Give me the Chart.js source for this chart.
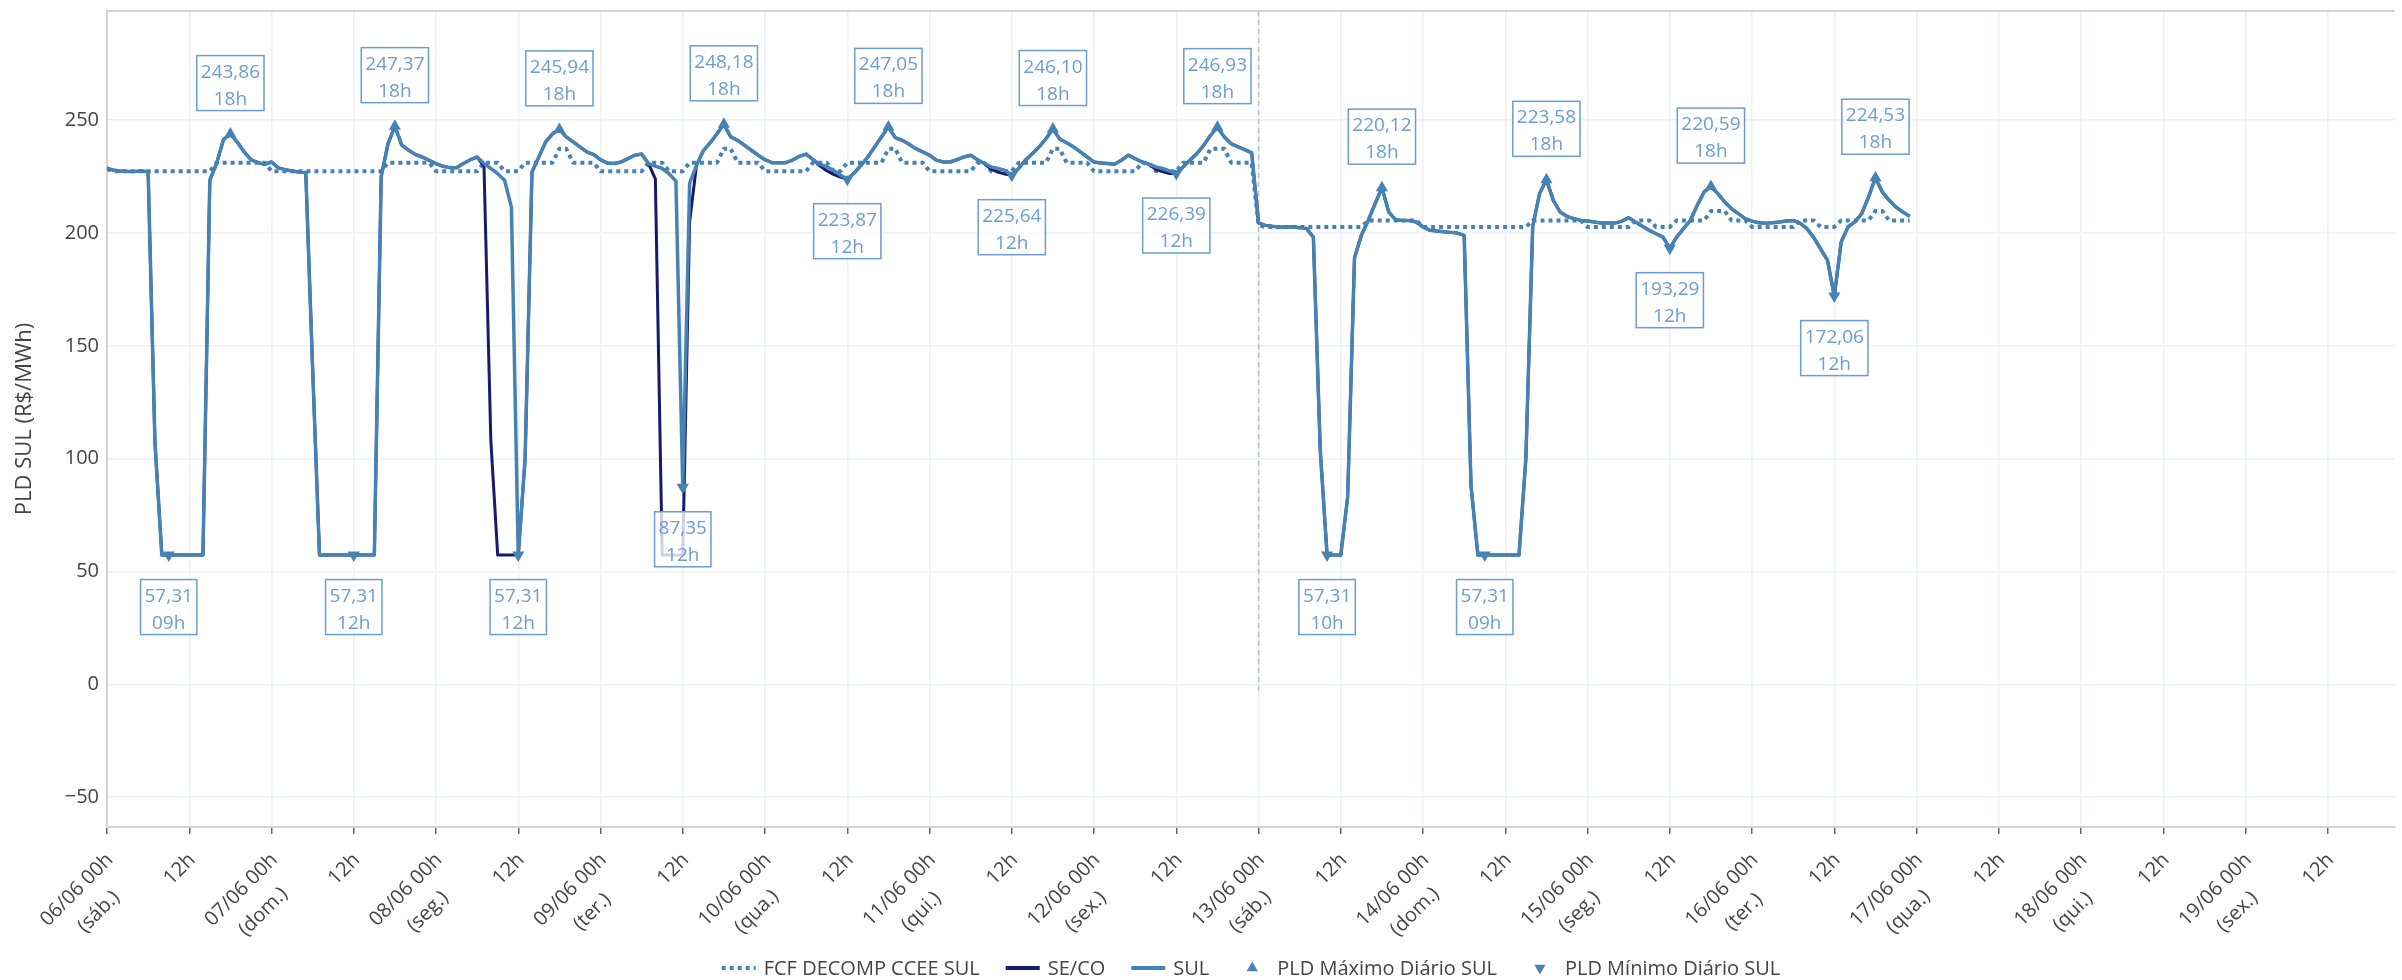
<!DOCTYPE html>
<html lang="pt-BR">
<head>
<meta charset="utf-8">
<title>PLD SUL</title>
<script src="https://cdn.jsdelivr.net/npm/chart.js@4.4.1/dist/chart.umd.min.js"></script>
<style>
  html, body { margin: 0; padding: 0; background: #fff; }
  #wrap { width: 2402px; height: 980px; }
  canvas { background: #fff; }
</style>
</head>
<body>
<div id="wrap"><canvas id="chart" width="2402" height="980"></canvas></div>
<script>
// hourly PLD, 06/06 00h .. 16/06 23h (one row per day)
const sul = [
  228.7, 227.8, 227.5, 227.3, 227.3, 227.5, 227.2, 107, 57.31, 57.31, 57.31, 57.31, 57.31, 57.31, 57.31, 223.4, 231, 241.5, 243.86, 240.4, 236, 232.5, 231.2, 230.5,
  231.5, 228.9, 228.1, 227.5, 227, 226.8, 140, 57.31, 57.31, 57.31, 57.31, 57.31, 57.31, 57.31, 57.31, 57.31, 225, 239.6, 247.37, 239, 236.7, 234.8, 233.7, 232.2,
  230.8, 229.6, 229, 228.9, 230.8, 232.5, 233.7, 230.8, 228.6, 226.3, 223.4, 211.5, 57.31, 100, 227, 233.7, 240.4, 244, 245.94, 242.6, 240.4, 238.2, 236, 234.8,
  232.5, 231, 230.8, 231.5, 233, 234.5, 235, 230.8, 229.7, 228.6, 226.3, 223, 87.35, 222, 230, 236.5, 240, 244, 248.18, 242.6, 241.1, 238.9, 236.7, 234.5,
  232.5, 231.2, 231.2, 231.2, 232.3, 234, 235, 232.5, 230.5, 229.3, 227.8, 225.6, 223.87, 226.6, 230, 233.7, 238.2, 242.6, 247.05, 242.3, 241.1, 239.4, 237.4, 236,
  234.5, 232.3, 231.5, 231.5, 232.5, 233.7, 234.5, 232.5, 230.8, 229.3, 228.6, 227.8, 225.64, 228.6, 232.3, 235.2, 238.2, 241.9, 246.1, 241.6, 240, 238.2, 236, 233.7,
  231.5, 231, 230.8, 230.5, 232.3, 234.5, 233, 231.5, 230.5, 229.3, 228.6, 227.5, 226.39, 229.3, 232.3, 235.2, 238.9, 243.3, 246.93, 242.6, 239.6, 238.2, 237, 235.5,
  204.5, 203.4, 203, 202.7, 202.7, 202.7, 202.4, 202, 198.2, 104, 57.31, 57.31, 57.31, 83, 189, 199, 205.6, 213, 220.12, 209.3, 205.9, 205.6, 205.6, 204.9,
  202.7, 201.2, 200.9, 200.6, 200.3, 200, 199, 88, 57.31, 57.31, 57.31, 57.31, 57.31, 57.31, 57.31, 100, 203, 217.5, 223.58, 214.5, 209.3, 207.4, 206.4, 205.6,
  205.3, 204.9, 204.4, 204.4, 204.4, 205.3, 206.8, 204.9, 203, 201.2, 199.7, 198.2, 193.29, 198.2, 202, 205.6, 212.3, 218.2, 220.59, 217.5, 213.8, 210.8, 208.6, 206.4,
  205.3, 204.6, 204.4, 204.6, 204.9, 205.3, 205.6, 204.4, 202, 198, 193, 188, 172.06, 196, 202.7, 205, 208.6, 216, 224.53, 218.2, 214.5, 211.5, 209.3, 207.4
];

const seco = [
  228.7, 227.8, 227.5, 227.3, 227.3, 227.5, 227.2, 107, 57.31, 57.31, 57.31, 57.31, 57.31, 57.31, 57.31, 223.4, 231, 241.5, 243.86, 240.4, 236, 232.5, 231.2, 230.5,
  231.5, 228.9, 228.1, 227.5, 227, 226.8, 140, 57.31, 57.31, 57.31, 57.31, 57.31, 57.31, 57.31, 57.31, 57.31, 225, 239.6, 247.37, 239, 236.7, 234.8, 233.7, 232.2,
  230.8, 229.6, 229, 228.9, 230.8, 232.5, 233.7, 229.5, 108, 57.31, 57.31, 57.31, 57.31, 100, 227, 233.7, 240.4, 244, 245.94, 242.6, 240.4, 238.2, 236, 234.8,
  232.5, 231, 230.8, 231.5, 233, 234.5, 235, 230.8, 224, 57.31, 57.31, 57.31, 57.31, 205, 230, 236.5, 240, 244, 248.18, 242.6, 241.1, 238.9, 236.7, 234.5,
  232.5, 231.2, 231.2, 231.2, 232.3, 234, 235, 232.5, 229.8, 227.6, 226, 224.8, 223.87, 226.6, 230, 233.7, 238.2, 242.6, 247.05, 242.3, 241.1, 239.4, 237.4, 236,
  234.5, 232.3, 231.5, 231.5, 232.5, 233.7, 234.5, 232.5, 230.8, 228.2, 227, 226.2, 225.64, 228.6, 232.3, 235.2, 238.2, 241.9, 246.1, 241.6, 240, 238.2, 236, 233.7,
  231.5, 231, 230.8, 230.5, 232.3, 234.5, 233, 231.5, 230.5, 228.2, 227.2, 226.4, 226.39, 229.3, 232.3, 235.2, 238.9, 243.3, 246.93, 242.6, 239.6, 238.2, 237, 235.5,
  204.5, 203.4, 203, 202.7, 202.7, 202.7, 202.4, 202, 198.2, 104, 57.31, 57.31, 57.31, 83, 189, 199, 205.6, 213, 220.12, 209.3, 205.9, 205.6, 205.6, 204.9,
  202.7, 201.2, 200.9, 200.6, 200.3, 200, 199, 88, 57.31, 57.31, 57.31, 57.31, 57.31, 57.31, 57.31, 100, 203, 217.5, 223.58, 214.5, 209.3, 207.4, 206.4, 205.6,
  205.3, 204.9, 204.4, 204.4, 204.4, 205.3, 206.8, 204.9, 203, 201.2, 199.7, 198.2, 193.29, 198.2, 202, 205.6, 212.3, 218.2, 220.59, 217.5, 213.8, 210.8, 208.6, 206.4,
  205.3, 204.6, 204.4, 204.6, 204.9, 205.3, 205.6, 204.4, 202, 198, 193, 188, 172.06, 196, 202.7, 205, 208.6, 216, 224.53, 218.2, 214.5, 211.5, 209.3, 207.4
];

const fcf = [
  228.3, 227.4, 227.4, 227.4, 227.4, 227.4, 227.4, 227.4, 227.4, 227.4, 227.4, 227.4, 227.4, 227.4, 227.4, 227.4, 231.2, 231.2, 231.2, 231.2, 231.2, 231.2, 231.2, 231.2,
  227.4, 227.4, 227.4, 227.4, 227.4, 227.4, 227.4, 227.4, 227.4, 227.4, 227.4, 227.4, 227.4, 227.4, 227.4, 227.4, 227.4, 231.2, 231.2, 231.2, 231.2, 231.2, 231.2, 231.2,
  227.4, 227.4, 227.4, 227.4, 227.4, 227.4, 227.4, 231.2, 231.2, 231.2, 227.4, 227.4, 227.4, 231.2, 231.2, 231.2, 231.2, 231.2, 237.4, 237.4, 231.2, 231.2, 231.2, 231.2,
  227.4, 227.4, 227.4, 227.4, 227.4, 227.4, 227.4, 231.2, 231.2, 231.2, 227.4, 227.4, 227.4, 231.2, 231.2, 231.2, 231.2, 231.2, 237.4, 237.4, 231.2, 231.2, 231.2, 231.2,
  227.4, 227.4, 227.4, 227.4, 227.4, 227.4, 227.4, 231.2, 231.2, 231.2, 227.4, 227.4, 231.2, 231.2, 231.2, 231.2, 231.2, 231.2, 237.4, 237.4, 231.2, 231.2, 231.2, 231.2,
  227.4, 227.4, 227.4, 227.4, 227.4, 227.4, 227.4, 231.2, 231.2, 227.4, 227.4, 227.4, 227.4, 231.2, 231.2, 231.2, 231.2, 231.2, 237.4, 237.4, 231.2, 231.2, 231.2, 231.2,
  227.4, 227.4, 227.4, 227.4, 227.4, 227.4, 227.4, 231.2, 231.2, 227.4, 227.4, 227.4, 227.4, 231.2, 231.2, 231.2, 231.2, 237.4, 237.4, 237.4, 231.2, 231.2, 231.2, 231.2,
  203.5, 202.7, 202.7, 202.7, 202.7, 202.7, 202.7, 202.7, 202.7, 202.7, 202.7, 202.7, 202.7, 202.7, 202.7, 202.7, 205.6, 205.6, 205.6, 205.6, 205.6, 205.6, 205.6, 205.6,
  202.7, 202.7, 202.7, 202.7, 202.7, 202.7, 202.7, 202.7, 202.7, 202.7, 202.7, 202.7, 202.7, 202.7, 202.7, 202.7, 205.6, 205.6, 205.6, 205.6, 205.6, 205.6, 205.6, 205.6,
  202.7, 202.7, 202.7, 202.7, 202.7, 202.7, 202.7, 205.6, 205.6, 205.6, 202.7, 202.7, 202.7, 205.6, 205.6, 205.6, 205.6, 205.6, 209.8, 209.8, 209.8, 205.6, 205.6, 205.6,
  202.7, 202.7, 202.7, 202.7, 202.7, 202.7, 202.7, 205.6, 205.6, 205.6, 202.7, 202.7, 202.7, 205.6, 205.6, 205.6, 205.6, 205.6, 209.8, 209.8, 205.6, 205.6, 205.6, 205.6
];

// daily max / min of SUL (hour counted from 06/06 00h)
const maxHours = [18, 42, 66, 90, 114, 138, 162, 186, 210, 234, 258];
const maxValues = [243.86, 247.37, 245.94, 248.18, 247.05, 246.10, 246.93, 220.12, 223.58, 220.59, 224.53];
const minHours = [9, 36, 60, 84, 108, 132, 156, 178, 201, 228, 252];
const minValues = [57.31, 57.31, 57.31, 87.35, 223.87, 225.64, 226.39, 57.31, 57.31, 193.29, 172.06];

const dayLabels = ["06/06 00h", "07/06 00h", "08/06 00h", "09/06 00h", "10/06 00h", "11/06 00h", "12/06 00h",
  "13/06 00h", "14/06 00h", "15/06 00h", "16/06 00h", "17/06 00h", "18/06 00h", "19/06 00h"];
const weekdayLabels = ["(sáb.)", "(dom.)", "(seg.)", "(ter.)", "(qua.)", "(qui.)", "(sex.)",
  "(sáb.)", "(dom.)", "(seg.)", "(ter.)", "(qua.)", "(qui.)", "(sex.)"];
const yTicks = [-50, 0, 50, 100, 150, 200, 250];
const newWeekHour = 168;

const hours = sul.map((_, i) => i);

const FAMILY = '"Open Sans", sans-serif';
const TEXT = "#444";
const BLUE = "#4682b4";
const NAVY = "#191970";
const NOTE = "#6b9dd2";
const GRID = "#edf0f7";
const AXIS = "#d4d4d4";

Chart.defaults.font.family = FAMILY;

const fmt = (v) => v.toFixed(2).replace(".", ",");
const hh = (h) => String(h % 24).padStart(2, "0") + "h";

function tri(ctx, cx, cy, r, down) {
  const s = down ? -1 : 1;
  ctx.beginPath();
  ctx.moveTo(cx, cy - s * r);
  ctx.lineTo(cx + r * 0.866, cy + s * r * 0.5);
  ctx.lineTo(cx - r * 0.866, cy + s * r * 0.5);
  ctx.closePath();
  ctx.fill();
}

function note(ctx, cx, cy, l1, l2) {
  ctx.save();
  ctx.font = "19px " + FAMILY;
  const w = Math.max(ctx.measureText(l1).width, ctx.measureText(l2).width) + 8;
  const h = 55;
  ctx.fillStyle = "rgba(255,255,255,0.8)";
  ctx.fillRect(cx - w / 2, cy - h / 2, w, h);
  ctx.strokeStyle = NOTE;
  ctx.lineWidth = 1.5;
  ctx.strokeRect(cx - w / 2, cy - h / 2, w, h);
  ctx.fillStyle = NOTE;
  ctx.textAlign = "center";
  ctx.textBaseline = "alphabetic";
  ctx.fillText(l1, cx, cy - 5.5);
  ctx.fillText(l2, cx, cy + 21.5);
  ctx.restore();
}

const extras = {
  id: "extras",
  beforeDatasetsDraw(chart) {
    const { ctx, chartArea: a, scales: { x, y } } = chart;
    ctx.save();
    ctx.strokeStyle = "#bdbdbd";
    ctx.lineWidth = 1.5;
    ctx.setLineDash([5, 4]);
    const vx = x.getPixelForValue(newWeekHour);
    ctx.beginPath();
    ctx.moveTo(vx, a.top);
    ctx.lineTo(vx, y.getPixelForValue(-4));
    ctx.stroke();
    ctx.restore();
  },
  afterDatasetsDraw(chart) {
    const { ctx, scales: { x, y } } = chart;
    maxHours.forEach((h, i) => {
      note(ctx, x.getPixelForValue(h), y.getPixelForValue(maxValues[i]) - 51, fmt(maxValues[i]), hh(h));
    });
    minHours.forEach((h, i) => {
      note(ctx, x.getPixelForValue(h), y.getPixelForValue(minValues[i]) + 52, fmt(minValues[i]), hh(h));
    });
  },
  afterDraw(chart) {
    const { ctx, chartArea: a, scales: { x } } = chart;
    ctx.save();

    // top frame line
    ctx.strokeStyle = AXIS;
    ctx.lineWidth = 2;
    ctx.beginPath();
    ctx.moveTo(a.left, a.top);
    ctx.lineTo(a.right, a.top);
    ctx.stroke();

    // rotated x tick labels
    ctx.font = "20px " + FAMILY;
    ctx.fillStyle = TEXT;
    ctx.textAlign = "center";
    ctx.textBaseline = "alphabetic";
    x.ticks.forEach((t) => {
      const v = t.value;
      const lines = v % 24 === 0 ? [dayLabels[v / 24], weekdayLabels[v / 24]] : ["12h"];
      const w = Math.max(...lines.map((s) => ctx.measureText(s).width));
      ctx.save();
      ctx.translate(x.getPixelForValue(v) + 2, a.bottom + 29);
      ctx.rotate(-Math.PI / 4);
      lines.forEach((s, i) => ctx.fillText(s, -w / 2, 7 + i * 31));
      ctx.restore();
    });

    // y axis title
    ctx.save();
    ctx.font = "22px " + FAMILY;
    ctx.translate(25, (a.top + a.bottom) / 2);
    ctx.rotate(-Math.PI / 2);
    ctx.textBaseline = "middle";
    ctx.fillText("PLD SUL (R$/MWh)", 0, 0);
    ctx.restore();

    // legend
    const items = chart.data.datasets.map((d, i) => ({
      text: d.label,
      kind: i === 0 ? "dots" : i < 3 ? "line" : i === 3 ? "up" : "down",
      color: d.borderColor || d.pointBackgroundColor,
    }));
    ctx.font = "20px " + FAMILY;
    const slot = 34, gap = 8, space = 26;
    const widths = items.map((it) => slot + gap + ctx.measureText(it.text).width);
    const total = widths.reduce((s, w) => s + w, 0) + space * (items.length - 1);
    let cx = (a.left + a.right) / 2 - total / 2;
    const ly = 968;
    items.forEach((it, i) => {
      ctx.save();
      ctx.strokeStyle = it.color;
      ctx.fillStyle = it.color;
      if (it.kind === "dots" || it.kind === "line") {
        ctx.lineWidth = 4;
        ctx.setLineDash(it.kind === "dots" ? [4, 4] : []);
        ctx.beginPath();
        ctx.moveTo(cx, ly);
        ctx.lineTo(cx + slot, ly);
        ctx.stroke();
      } else {
        tri(ctx, cx + slot / 2, ly, 6.5, it.kind === "down");
      }
      ctx.restore();
      ctx.fillStyle = TEXT;
      ctx.textAlign = "left";
      ctx.fillText(it.text, cx + slot + gap, ly + 7);
      cx += widths[i] + space;
    });

    ctx.restore();
  },
};

function draw() {
  new Chart(document.getElementById("chart"), {
    type: "line",
    data: {
      labels: hours,
      datasets: [
        { label: "FCF DECOMP CCEE SUL", data: fcf, borderColor: BLUE, borderWidth: 4, borderDash: [4, 4], pointRadius: 0, order: 3 },
        { label: "SE/CO", data: seco, borderColor: NAVY, borderWidth: 3, pointRadius: 0, order: 2 },
        { label: "SUL", data: sul, borderColor: BLUE, borderWidth: 3.5, pointRadius: 0, order: 1 },
        {
          label: "PLD Máximo Diário SUL",
          data: maxHours.map((h, i) => ({ x: h, y: maxValues[i] })),
          showLine: false, pointStyle: "triangle", pointRadius: 7,
          pointBackgroundColor: BLUE, pointBorderWidth: 0, order: 0,
        },
        {
          label: "PLD Mínimo Diário SUL",
          data: minHours.map((h, i) => ({ x: h, y: minValues[i] })),
          showLine: false, pointStyle: "triangle", pointRotation: 180, pointRadius: 7,
          pointBackgroundColor: BLUE, pointBorderWidth: 0, order: 0,
        },
      ],
    },
    options: {
      responsive: false,
      animation: false,
      devicePixelRatio: 1,
      layout: { padding: { top: 11, right: 0, bottom: 0, left: 0 } },
      elements: { line: { tension: 0, borderJoinStyle: "round" } },
      plugins: { legend: { display: false }, tooltip: { enabled: false } },
      scales: {
        x: {
          type: "linear",
          min: 0,
          max: 333.8,
          ticks: { display: false, stepSize: 12 },
          afterBuildTicks: (s) => { s.ticks = s.ticks.filter((t) => t.value % 12 === 0); },
          afterFit: (s) => { s.height = 153; s.paddingLeft = 0; s.paddingRight = 0; },
          grid: { color: GRID, lineWidth: 1.5, drawTicks: true, tickLength: 7, tickColor: "#666", tickWidth: 1.5 },
          border: { color: AXIS, width: 2 },
        },
        y: {
          min: -63.2,
          max: 298.4,
          afterBuildTicks: (s) => { s.ticks = yTicks.map((v) => ({ value: v })); },
          afterFit: (s) => { s.width = 107; s.paddingTop = 0; s.paddingBottom = 0; },
          ticks: {
            color: TEXT,
            padding: 8,
            font: { family: FAMILY, size: 20 },
            callback: (v) => (v < 0 ? "\u2212" + Math.abs(v) : String(v)),
          },
          grid: { color: GRID, lineWidth: 1.5, drawTicks: false },
          border: { color: AXIS, width: 2 },
        },
      },
    },
    plugins: [extras],
  });
}

if (document.fonts && document.fonts.load) {
  document.fonts.load('20px "Open Sans"').then(draw, draw);
} else {
  draw();
}
</script>
</body>
</html>
